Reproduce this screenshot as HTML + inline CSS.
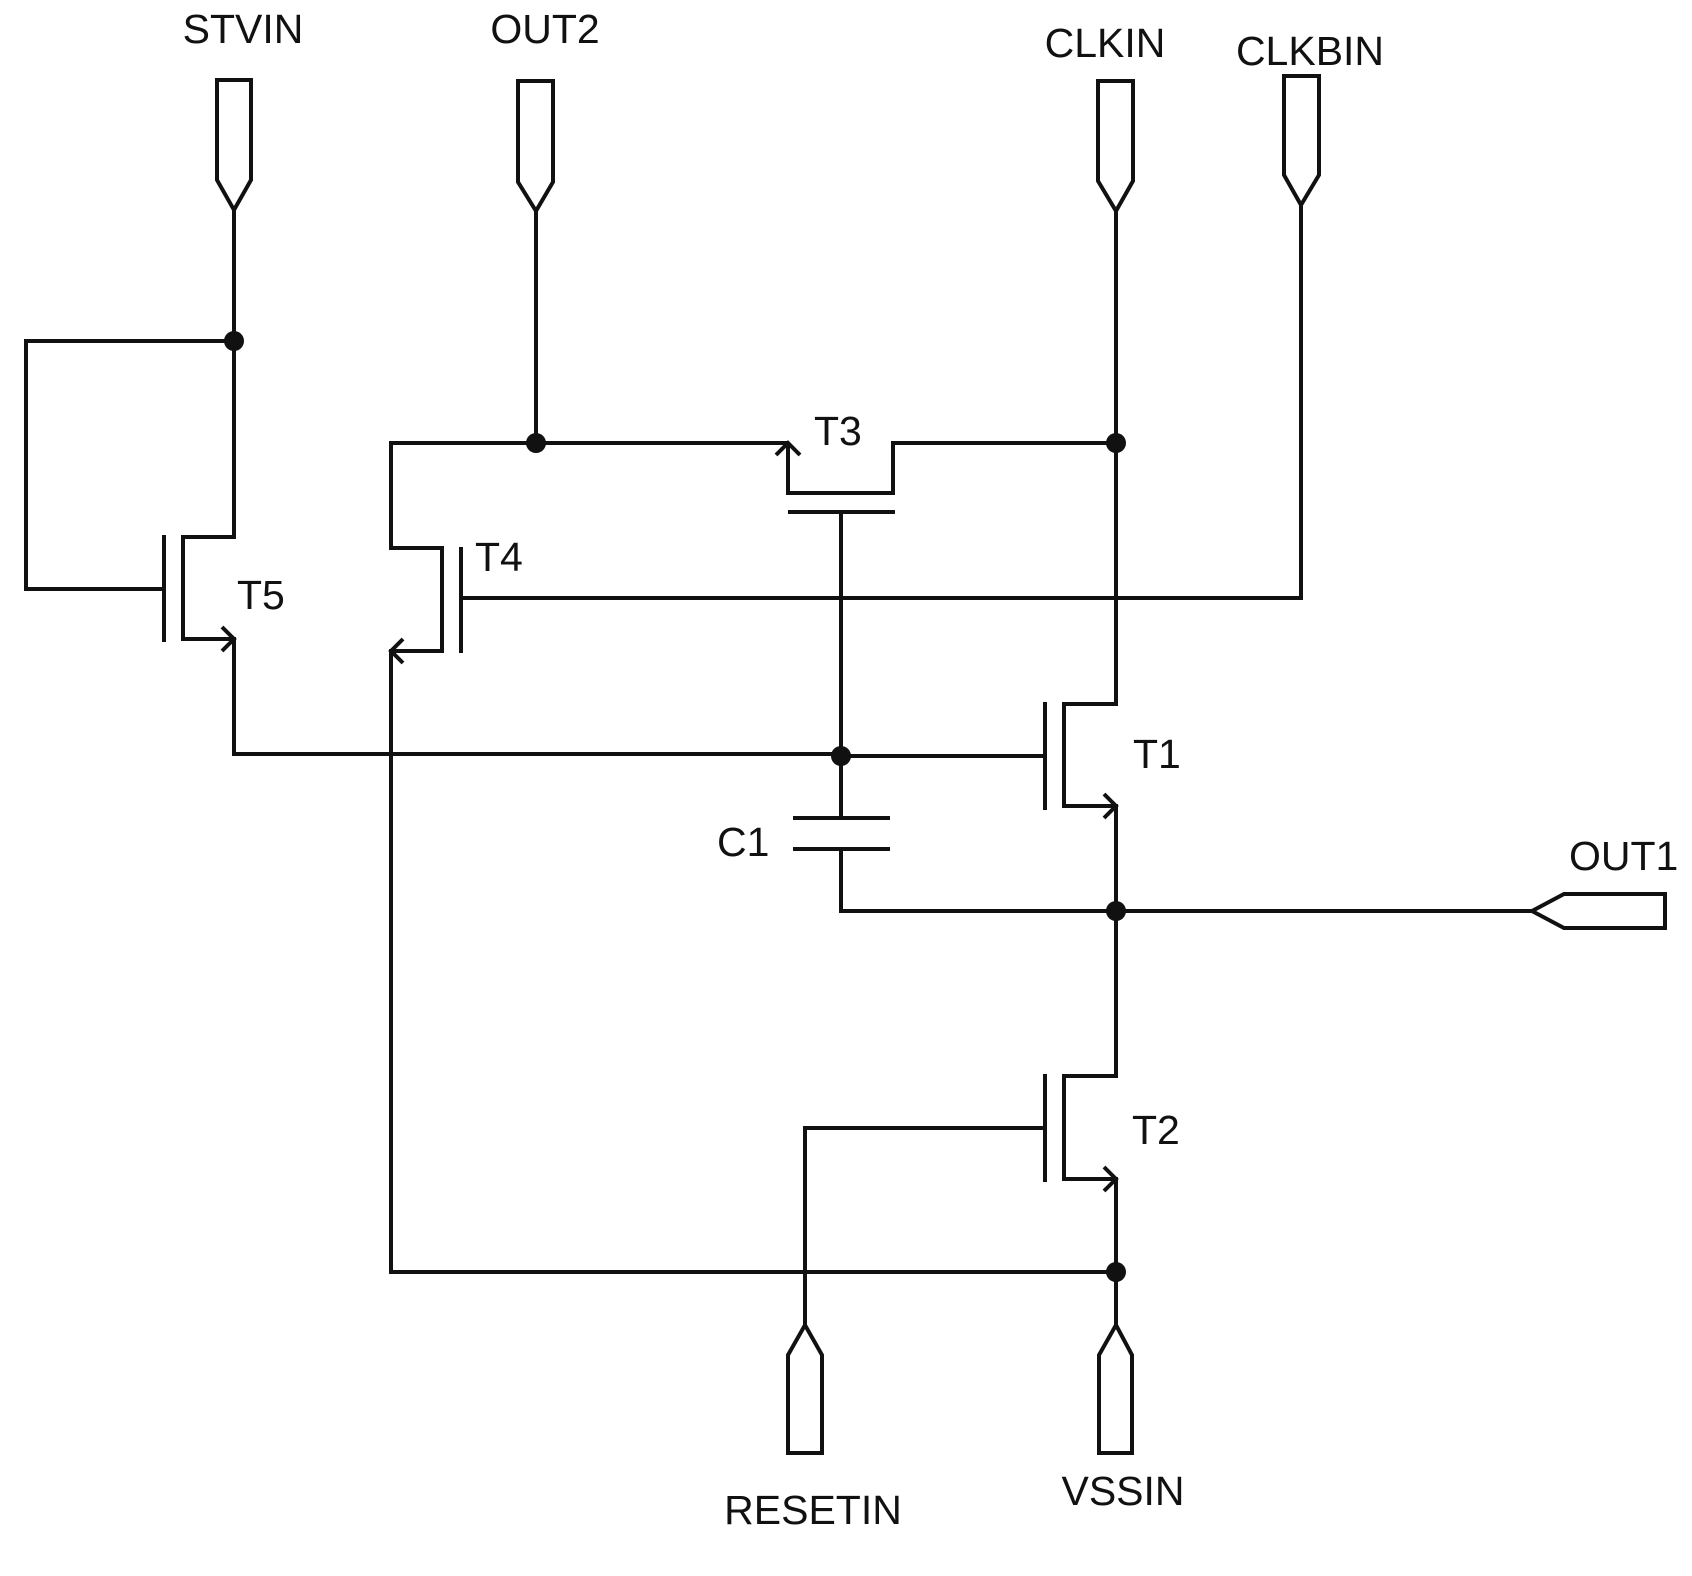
<!DOCTYPE html>
<html><head><meta charset="utf-8"><style>
html,body{margin:0;padding:0;background:#fff}
svg{display:block}
text{font-family:"Liberation Sans",Arial,sans-serif;font-size:41px;fill:#111}
</style></head><body>
<svg width="1692" height="1576" viewBox="0 0 1692 1576" xmlns="http://www.w3.org/2000/svg">
<g fill="none" stroke="#111" stroke-width="4" stroke-linejoin="miter">
<!-- pins -->
<polygon points="217,80 251,80 251,180 234,210 217,180"/>
<polygon points="518,81 553,81 553,182 536,211 518,182"/>
<polygon points="1098,81 1133,81 1133,181 1116,211 1098,181"/>
<polygon points="1284,76 1319,76 1319,175 1301,205 1284,175"/>
<polygon points="788,1453 822,1453 822,1355 805,1325 788,1355"/>
<polygon points="1099,1453 1132,1453 1132,1355 1116,1325 1099,1355"/>
<polygon points="1532,911 1564,894 1665,894 1665,928 1564,928"/>
<!-- STVIN / T5 -->
<polyline points="234,210 234,537 183,537 183,639 234,639 234,754 841,754"/>
<polyline points="234,341 26,341 26,589 164,589"/>
<line x1="164" y1="535" x2="164" y2="642"/>
<polyline points="222,627 234,639 222,651"/>
<!-- OUT2 / T3 / T4 -->
<line x1="536" y1="211" x2="536" y2="443"/>
<polyline points="788,443 391,443 391,548 442,548 442,651 391,651 391,1272 1116,1272"/>
<polyline points="403,639 391,651 403,663"/>
<line x1="461" y1="547" x2="461" y2="653"/>
<polyline points="461,598 1301,598 1301,205"/>
<polyline points="788,443 788,493 893,493 893,443 1116,443"/>
<polyline points="776,455 788,443 800,455"/>
<line x1="788" y1="512" x2="895" y2="512"/>
<line x1="841" y1="512" x2="841" y2="818"/>
<!-- CLKIN / T1 -->
<polyline points="1116,211 1116,704 1064,704 1064,806 1116,806 1116,1076 1064,1076 1064,1179 1116,1179 1116,1325"/>
<polyline points="1104,794 1116,806 1104,818"/>
<polyline points="1104,1167 1116,1179 1104,1191"/>
<line x1="841" y1="756" x2="1045" y2="756"/>
<line x1="1045" y1="702" x2="1045" y2="810"/>
<line x1="1045" y1="1074" x2="1045" y2="1182"/>
<!-- C1 -->
<line x1="793" y1="818" x2="890" y2="818"/>
<line x1="793" y1="849" x2="890" y2="849"/>
<polyline points="841,849 841,911 1532,911"/>
<!-- RESET -->
<polyline points="805,1325 805,1128 1045,1128"/>
</g>
<g fill="#111">
<circle cx="234" cy="341" r="10"/>
<circle cx="536" cy="443" r="10"/>
<circle cx="1116" cy="443" r="10"/>
<circle cx="841" cy="756" r="10"/>
<circle cx="1116" cy="911" r="10"/>
<circle cx="1116" cy="1272" r="10"/>
</g>
<text x="243" y="43" text-anchor="middle">STVIN</text>
<text x="545" y="43" text-anchor="middle">OUT2</text>
<text x="1105" y="57" text-anchor="middle">CLKIN</text>
<text x="1310" y="65" text-anchor="middle">CLKBIN</text>
<text x="814" y="445">T3</text>
<text x="475" y="571">T4</text>
<text x="237" y="609">T5</text>
<text x="1133" y="768">T1</text>
<text x="717" y="856">C1</text>
<text x="1569" y="870">OUT1</text>
<text x="1132" y="1144">T2</text>
<text x="813" y="1524" text-anchor="middle">RESETIN</text>
<text x="1123" y="1505" text-anchor="middle">VSSIN</text>
</svg>
</body></html>
